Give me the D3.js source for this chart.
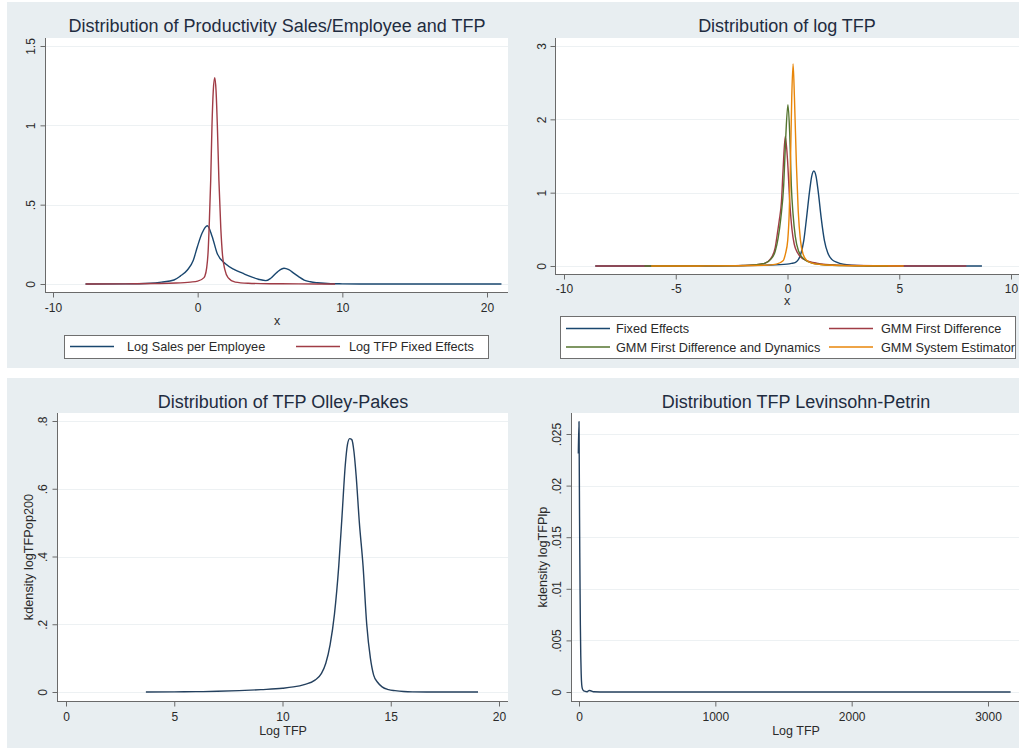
<!DOCTYPE html>
<html>
<head>
<meta charset="utf-8">
<script src="https://cdn.jsdelivr.net/npm/d3@7"></script>
<style>
  body { margin: 0; background: #ffffff; }
  svg { display: block; }
</style>
</head>
<body>
<svg id="chart" width="1019" height="750"></svg>
<script>
// ---------- Panel 1: productivity densities ----------
const salesX = [-7.75, -5, -3.25, -2.5, -1.64, -1.2, -0.71, -0.3, -0.02, 0.3, 0.67, 1.0, 1.36, 1.94, 2.51, 3.1, 3.67, 4.2, 4.71, 5.05, 5.5, 5.97, 6.3, 6.66, 7.0, 7.36, 7.8, 8.28, 9.2, 10, 12, 15, 21];
const salesY = [0, 0.001, 0.005, 0.012, 0.025, 0.05, 0.088, 0.15, 0.235, 0.32, 0.367, 0.3, 0.19, 0.126, 0.092, 0.068, 0.046, 0.03, 0.021, 0.036, 0.075, 0.099, 0.09, 0.067, 0.045, 0.025, 0.014, 0.008, 0.002, 0.001, 0, 0, 0];
const tfpFeX = [-7.75, -5, -3, -1.5, -0.5, 0, 0.44, 0.5, 0.62, 0.72, 0.81, 0.9, 0.99, 1.08, 1.18, 1.27, 1.36, 1.47, 1.6, 1.72, 1.88, 2.1, 2.6, 3.5, 5, 7, 9.5];
const tfpFeY = [0, 0.001, 0.003, 0.006, 0.012, 0.018, 0.04, 0.05, 0.1, 0.2, 0.4, 0.65, 1.0, 1.22, 1.3, 1.22, 1.0, 0.65, 0.35, 0.18, 0.09, 0.04, 0.012, 0.005, 0.002, 0.001, 0];
const p1XTicks = [-10, 0, 10, 20];
const p1XLabels = ["-10", "0", "10", "20"];
const p1YTicks = [0, 0.5, 1, 1.5];
const p1YLabels = ["0", ".5", "1", "1.5"];
const p1Legend = ["Log Sales per Employee", "Log TFP Fixed Effects"];

// ---------- Panel 2: log TFP by estimator ----------
const feX = [-8.6, -5, -3, -2, -1, -0.02, 0.18, 0.36, 0.58, 0.73, 0.85, 0.98, 1.08, 1.18, 1.28, 1.38, 1.51, 1.65, 1.8, 1.98, 2.22, 2.48, 2.88, 3.5, 4.5, 8.7];
const feY = [0, 0.001, 0.002, 0.004, 0.012, 0.025, 0.035, 0.05, 0.15, 0.35, 0.65, 1.0, 1.22, 1.296, 1.22, 1.0, 0.65, 0.35, 0.18, 0.09, 0.05, 0.025, 0.01, 0.004, 0.001, 0];
const gmmFdX = [-8.6, -6, -4, -3, -2, -1.5, -1.0, -0.75, -0.55, -0.45, -0.37, -0.27, -0.2, -0.1, 0.0, 0.1, 0.2, 0.3, 0.45, 0.6, 0.8, 1.0, 1.3, 1.7, 2.2, 3, 4, 6, 8.0];
const gmmFdY = [0, 0.001, 0.002, 0.004, 0.008, 0.015, 0.04, 0.1, 0.25, 0.45, 0.62, 0.88, 1.3, 1.765, 1.45, 0.88, 0.5, 0.3, 0.18, 0.12, 0.08, 0.06, 0.04, 0.022, 0.012, 0.006, 0.003, 0.001, 0];
const gmmDynX = [-6.4, -4, -3, -2, -1.5, -1, -0.75, -0.55, -0.42, -0.3, -0.17, -0.08, 0.02, 0.1, 0.17, 0.25, 0.35, 0.5, 0.65, 0.85, 1.1, 1.5, 2, 3, 4.5];
const gmmDynY = [0, 0.002, 0.003, 0.008, 0.015, 0.04, 0.09, 0.2, 0.38, 0.65, 1.1, 1.75, 2.2, 1.8, 1.1, 0.7, 0.4, 0.2, 0.12, 0.07, 0.04, 0.02, 0.01, 0.004, 0];
const gmmSysX = [-6.1, -4, -2, -1, -0.5, -0.2, -0.09, 0.01, 0.08, 0.13, 0.19, 0.25, 0.31, 0.4, 0.48, 0.58, 0.7, 0.85, 1.1, 1.5, 2, 3, 5.2];
const gmmSysY = [0, 0.001, 0.004, 0.01, 0.025, 0.07, 0.17, 0.35, 0.75, 1.37, 2.3, 2.755, 2.3, 1.37, 0.75, 0.35, 0.16, 0.08, 0.04, 0.02, 0.01, 0.004, 0];
const p2XTicks = [-10, -5, 0, 5, 10];
const p2XLabels = ["-10", "-5", "0", "5", "10"];
const p2YTicks = [0, 1, 2, 3];
const p2YLabels = ["0", "1", "2", "3"];
const p2Legend = ["Fixed Effects", "GMM First Difference", "GMM First Difference and Dynamics", "GMM System Estimator"];

// ---------- Panel 3: Olley-Pakes ----------
const opX = [3.69, 5, 6, 7, 8, 9, 10, 10.5, 11, 11.5, 11.8, 12.0, 12.2, 12.4, 12.6, 12.75, 12.9, 13.0, 13.1, 13.2, 13.3, 13.4, 13.55, 13.72, 13.89, 14.06, 14.21, 14.4, 14.6, 14.9, 15.2, 15.6, 16, 17, 19.03];
const opY = [0, 0.0005, 0.001, 0.002, 0.004, 0.007, 0.011, 0.015, 0.022, 0.035, 0.055, 0.085, 0.14, 0.23, 0.373, 0.52, 0.67, 0.73, 0.748, 0.745, 0.71, 0.64, 0.5, 0.373, 0.2, 0.1, 0.05, 0.028, 0.015, 0.007, 0.004, 0.0015, 0.0005, 0, 0];
const p3XTicks = [0, 5, 10, 15, 20];
const p3XLabels = ["0", "5", "10", "15", "20"];
const p3YTicks = [0, 0.2, 0.4, 0.6, 0.8];
const p3YLabels = ["0", ".2", ".4", ".6", ".8"];

// ---------- Panel 4: Levinsohn-Petrin ----------
const lpX = [-5, 0, 1, 2, 3, 4, 6, 8, 10, 13, 16, 20, 25, 35, 50, 60, 75, 90, 110, 200, 400, 1000, 2000, 3166];
const lpY = [0.0231, 0.0262, 0.0245, 0.022, 0.0195, 0.017, 0.013, 0.0095, 0.0065, 0.0035, 0.0018, 0.0007, 0.0003, 0.0001, 0.00005, 0.00002, 0.00015, 0.0001, 0.00002, 0, 0, 0, 0, 0];
const p4XTicks = [0, 1000, 2000, 3000];
const p4XLabels = ["0", "1000", "2000", "3000"];
const p4YTicks = [0, 0.005, 0.01, 0.015, 0.02, 0.025];
const p4YLabels = ["0", ".005", ".01", ".015", ".02", ".025"];

// ---------- styling ----------
const NAVY = "#1a476f", MAROON = "#a03c46", FOREST = "#55752f", DKORANGE = "#e8860a";
const BG = "#e8eef1", GRID = "#edf1f3", AXIS = "#6a6a6a", TXT = "#2a2a2a", TITLE = "#1f2c40";
const FONT = "'Liberation Sans', Arial, sans-serif";

const svg = d3.select("#chart");

// graph region backgrounds (one band per row)
svg.append("rect").attr("x", 7).attr("y", 2).attr("width", 1012).attr("height", 366).attr("fill", BG);
svg.append("rect").attr("x", 7).attr("y", 378).attr("width", 1012).attr("height", 370).attr("fill", BG);

function drawPanel(p) {
  const g = svg.append("g");
  const b = p.box;
  g.append("rect").attr("x", b.x0).attr("y", b.y0).attr("width", b.x1 - b.x0).attr("height", b.y1 - b.y0).attr("fill", "#fff");

  const x = d3.scaleLinear().domain(p.xDomain).range(p.xRange);
  const y = d3.scaleLinear().domain(p.yDomain).range(p.yRange);

  // horizontal grid at labelled y ticks
  g.selectAll("line.grid").data(p.yTicks).join("line")
    .attr("class", "grid")
    .attr("x1", b.x0 + 1).attr("x2", b.x1)
    .attr("y1", d => Math.round(y(d)) + 0.5).attr("y2", d => Math.round(y(d)) + 0.5)
    .attr("stroke", GRID).attr("stroke-width", 1.2);

  // density curves
  const line = d3.line().x(d => x(d[0])).y(d => y(d[1])).curve(d3.curveMonotoneX);
  p.series.forEach(s => {
    g.append("path").datum(d3.zip(s.x, s.y))
      .attr("d", line).attr("fill", "none")
      .attr("stroke", s.color).attr("stroke-width", 1.4)
      .attr("stroke-linejoin", "round");
  });

  // axis lines along plot region edges
  g.append("line").attr("x1", b.x0 + 0.5).attr("x2", b.x0 + 0.5).attr("y1", b.y0).attr("y2", b.y1 + 0.5)
    .attr("stroke", AXIS).attr("stroke-width", 1);
  g.append("line").attr("x1", b.x0).attr("x2", b.x1).attr("y1", b.y1 + 0.5).attr("y2", b.y1 + 0.5)
    .attr("stroke", AXIS).attr("stroke-width", 1);

  // x axis
  const xa = d3.axisBottom(x).tickValues(p.xTicks).tickFormat((d, i) => p.xLabels[i]).tickSize(5).tickSizeOuter(0);
  const gx = g.append("g").attr("transform", `translate(0,${b.y1 + 0.5})`).call(xa);
  gx.select(".domain").remove();
  gx.selectAll(".tick line").attr("stroke", AXIS);
  gx.selectAll(".tick text")
    .attr("y", p.xLabelBase - b.y1).attr("dy", 0)
    .attr("fill", TXT).style("font-size", "12px").style("font-family", FONT);

  // y axis, labels rotated
  const ya = d3.axisLeft(y).tickValues(p.yTicks).tickFormat((d, i) => p.yLabels[i]).tickSize(5).tickSizeOuter(0);
  const gy = g.append("g").attr("transform", `translate(${b.x0 + 0.5},0)`).call(ya);
  gy.select(".domain").remove();
  gy.selectAll(".tick line").attr("stroke", AXIS);
  gy.selectAll(".tick text")
    .attr("transform", "rotate(-90)")
    .attr("x", 0).attr("y", p.yLabelBase - b.x0).attr("dy", 0)
    .attr("text-anchor", "middle")
    .attr("fill", TXT).style("font-size", "12px").style("font-family", FONT);

  // titles
  g.append("text").attr("x", p.titleX).attr("y", p.titleY).attr("text-anchor", "middle")
    .attr("fill", TITLE).style("font-size", "18px").style("font-family", FONT).text(p.title);
  g.append("text").attr("x", p.titleX).attr("y", p.xTitleY).attr("text-anchor", "middle")
    .attr("fill", TXT).style("font-size", "12.5px").style("font-family", FONT).text(p.xTitle);
  if (p.yTitle) {
    g.append("text").attr("transform", `translate(${p.yTitleX},${(b.y0 + b.y1) / 2}) rotate(-90)`)
      .attr("text-anchor", "middle")
      .attr("fill", TXT).style("font-size", "12.7px").style("font-family", FONT).text(p.yTitle);
  }

  // legend
  if (p.legend) {
    const L = p.legend;
    g.append("rect").attr("x", L.x0 + 0.5).attr("y", L.y0 + 0.5).attr("width", L.x1 - L.x0).attr("height", L.y1 - L.y0)
      .attr("fill", "#fff").attr("stroke", "#6f6f6f").attr("stroke-width", 1);
    L.items.forEach((it, i) => {
      g.append("line").attr("x1", it.lx).attr("x2", it.lx + 44).attr("y1", it.ly).attr("y2", it.ly)
        .attr("stroke", p.series[i].color).attr("stroke-width", 1.4);
      g.append("text").attr("x", it.tx).attr("y", it.ly + 4.6)
        .attr("fill", TXT).style("font-size", "12.7px").style("font-family", FONT).text(L.labels[i]);
    });
  }
}

drawPanel({
  title: "Distribution of Productivity Sales/Employee and TFP",
  titleX: 277, titleY: 31.5, xTitle: "x", xTitleY: 325,
  box: { x0: 45, x1: 508, y0: 38, y1: 292 },
  xDomain: [-10, 20], xRange: [53, 487], yDomain: [0, 1.5], yRange: [284, 46],
  xTicks: p1XTicks, xLabels: p1XLabels, yTicks: p1YTicks, yLabels: p1YLabels,
  xLabelBase: 311.5, yLabelBase: 34.3,
  series: [{ x: salesX, y: salesY, color: NAVY }, { x: tfpFeX, y: tfpFeY, color: MAROON }],
  legend: {
    x0: 64, x1: 488, y0: 335, y1: 358, labels: p1Legend,
    items: [{ lx: 70, ly: 346.5, tx: 127 }, { lx: 296, ly: 346.5, tx: 349 }]
  }
});

drawPanel({
  title: "Distribution of log TFP",
  titleX: 787, titleY: 31.5, xTitle: "x", xTitleY: 305,
  box: { x0: 555, x1: 1019, y0: 38, y1: 274 },
  xDomain: [-10, 10], xRange: [564, 1011], yDomain: [0, 3], yRange: [266, 46],
  xTicks: p2XTicks, xLabels: p2XLabels, yTicks: p2YTicks, yLabels: p2YLabels,
  xLabelBase: 292.5, yLabelBase: 545,
  series: [
    { x: feX, y: feY, color: NAVY },
    { x: gmmFdX, y: gmmFdY, color: MAROON },
    { x: gmmDynX, y: gmmDynY, color: FOREST },
    { x: gmmSysX, y: gmmSysY, color: DKORANGE }
  ],
  legend: {
    x0: 560, x1: 1015, y0: 316, y1: 358, labels: p2Legend,
    items: [
      { lx: 566, ly: 328.5, tx: 616 }, { lx: 829, ly: 328.5, tx: 881 },
      { lx: 566, ly: 347, tx: 616 }, { lx: 829, ly: 347, tx: 881 }
    ]
  }
});

drawPanel({
  title: "Distribution of TFP Olley-Pakes",
  titleX: 283, titleY: 407.5, xTitle: "Log TFP", xTitleY: 735,
  box: { x0: 57, x1: 508, y0: 413, y1: 701 },
  xDomain: [0, 20], xRange: [66, 499], yDomain: [0, 0.8], yRange: [692, 421],
  xTicks: p3XTicks, xLabels: p3XLabels, yTicks: p3YTicks, yLabels: p3YLabels,
  xLabelBase: 720.3, yLabelBase: 46,
  yTitle: "kdensity logTFPop200", yTitleX: 32.8,
  series: [{ x: opX, y: opY, color: "#24405e" }]
});

drawPanel({
  title: "Distribution TFP Levinsohn-Petrin",
  titleX: 796, titleY: 407.5, xTitle: "Log TFP", xTitleY: 735,
  box: { x0: 571, x1: 1019, y0: 413, y1: 701 },
  xDomain: [0, 3000], xRange: [579, 988], yDomain: [0, 0.025], yRange: [692, 434],
  xTicks: p4XTicks, xLabels: p4XLabels, yTicks: p4YTicks, yLabels: p4YLabels,
  xLabelBase: 720.3, yLabelBase: 560,
  yTitle: "kdensity logTFPlp", yTitleX: 547,
  series: [{ x: lpX, y: lpY, color: "#24405e" }]
});
</script>
</body>
</html>
